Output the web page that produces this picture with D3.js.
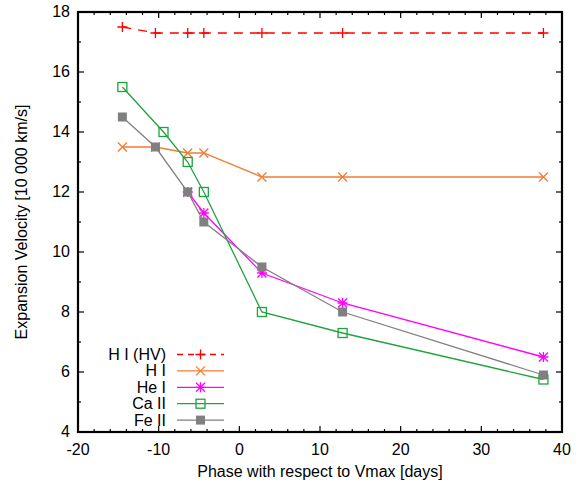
<!DOCTYPE html>
<html><head><meta charset="utf-8">
<script src="https://cdn.jsdelivr.net/npm/d3@7"></script>
<style>body{margin:0;background:#fff}svg{display:block}text{font-family:"Liberation Sans",Arial,sans-serif;font-size:16px;fill:#000}</style>
</head><body>
<script>
const phase = [-14.5, -10.4, -6.4, -4.4, 2.8, 12.8, 37.7];
const phaseCa = [-14.5, -9.4, -6.4, -4.4, 2.8, 12.8, 37.7];
const hiHV = [17.5, 17.3, 17.3, 17.3, 17.3, 17.3, 17.3];
const hi = [13.5, 13.5, 13.3, 13.3, 12.5, 12.5, 12.5];
const heiPhase = [-6.4, -4.4, 2.8, 12.8, 37.7];
const hei = [12.0, 11.3, 9.3, 8.3, 6.5];
const caii = [15.5, 14.0, 13.0, 12.0, 8.0, 7.3, 5.75];
const feii = [14.5, 13.5, 12.0, 11.0, 9.5, 8.0, 5.9];
const xTicks = [-20, -10, 0, 10, 20, 30, 40];
const yTicks = [4, 6, 8, 10, 12, 14, 16, 18];
const seriesNames = ["H I (HV)", "H I", "He I", "Ca II", "Fe II"];

const W = 582, H = 485;
const m = {l: 78, r: 20, t: 12, b: 53};
const svg = d3.select("body").append("svg").attr("width", W).attr("height", H);
const x = d3.scaleLinear().domain([-20, 40]).range([m.l, W - m.r]);
const y = d3.scaleLinear().domain([4, 18]).range([H - m.b, m.t]);

const series = [
  {name: seriesNames[0], xs: phase, ys: hiHV, color: "#ff0000", marker: "plus", dash: "9,7"},
  {name: seriesNames[1], xs: phase, ys: hi, color: "#f07d32", marker: "cross"},
  {name: seriesNames[2], xs: heiPhase, ys: hei, color: "#ff00ff", marker: "star"},
  {name: seriesNames[3], xs: phaseCa, ys: caii, color: "#1fa33f", marker: "osq"},
  {name: seriesNames[4], xs: phase, ys: feii, color: "#808080", marker: "fsq"}
];

function drawMarker(g, type, cx, cy, color) {
  const s = 5;
  if (type === "plus") {
    g.append("path").attr("d", `M${cx-s},${cy}H${cx+s}M${cx},${cy-s}V${cy+s}`).attr("stroke", color).attr("stroke-width", 1.3).attr("fill", "none");
  } else if (type === "cross") {
    const t = 4.5;
    g.append("path").attr("d", `M${cx-t},${cy-t}L${cx+t},${cy+t}M${cx-t},${cy+t}L${cx+t},${cy-t}`).attr("stroke", color).attr("stroke-width", 1.3).attr("fill", "none");
  } else if (type === "star") {
    const t = 4.5;
    g.append("path").attr("d", `M${cx-s},${cy}H${cx+s}M${cx},${cy-s}V${cy+s}M${cx-t},${cy-t}L${cx+t},${cy+t}M${cx-t},${cy+t}L${cx+t},${cy-t}`).attr("stroke", color).attr("stroke-width", 1.3).attr("fill", "none");
  } else if (type === "osq") {
    g.append("rect").attr("x", cx-4.5).attr("y", cy-4.5).attr("width", 9).attr("height", 9).attr("stroke", color).attr("stroke-width", 1.3).attr("fill", "none");
  } else if (type === "fsq") {
    g.append("rect").attr("x", cx-4.5).attr("y", cy-4.5).attr("width", 9).attr("height", 9).attr("fill", color);
  }
}

// ticks
const tg = svg.append("g").attr("stroke", "#000").attr("stroke-width", 1.2);
const x0 = x.range()[0], x1 = x.range()[1], y0 = y.range()[0], y1 = y.range()[1];
d3.range(-20, 40.001, 2).forEach(v => {
  const major = v % 10 === 0;
  const L = major ? 6 : 3;
  tg.append("line").attr("x1", x(v)).attr("x2", x(v)).attr("y1", y0).attr("y2", y0 - L);
  tg.append("line").attr("x1", x(v)).attr("x2", x(v)).attr("y1", y1).attr("y2", y1 + L);
});
d3.range(4, 18.001, 1).forEach(v => {
  const major = v % 2 === 0;
  const L = major ? 6 : 3;
  tg.append("line").attr("y1", y(v)).attr("y2", y(v)).attr("x1", x0).attr("x2", x0 + L);
  tg.append("line").attr("y1", y(v)).attr("y2", y(v)).attr("x1", x1).attr("x2", x1 - L);
});

// tick labels
xTicks.forEach(v => svg.append("text").attr("x", x(v)).attr("y", y0 + 23).attr("text-anchor", "middle").text(v));
yTicks.forEach(v => svg.append("text").attr("x", x0 - 8).attr("y", y(v) + 5).attr("text-anchor", "end").text(v));

// series
const line = d3.line();
series.forEach(s => {
  const g = svg.append("g");
  const pts = s.xs.map((xv, i) => [x(xv), y(s.ys[i])]);
  g.append("path").attr("d", line(pts)).attr("fill", "none").attr("stroke", s.color).attr("stroke-width", 1.3).attr("stroke-dasharray", s.dash || null);
  pts.forEach(p => drawMarker(g, s.marker, p[0], p[1], s.color));
});

// legend
series.forEach((s, i) => {
  const ly = 354.5 + i * 16.4;
  svg.append("text").attr("x", 166).attr("y", ly + 5.5).attr("text-anchor", "end").text(s.name);
  const g = svg.append("g");
  g.append("line").attr("x1", 177).attr("x2", 224).attr("y1", ly).attr("y2", ly).attr("stroke", s.color).attr("stroke-width", 1.3).attr("stroke-dasharray", s.dash ? "6,5" : null);
  drawMarker(g, s.marker, 200.5, ly, s.color);
});

// frame
svg.append("rect").attr("x", x0).attr("y", y1).attr("width", x1 - x0).attr("height", y0 - y1).attr("fill", "none").attr("stroke", "#000").attr("stroke-width", 2.2);

// axis titles
svg.append("text").attr("x", (x0 + x1) / 2).attr("y", 477).attr("text-anchor", "middle").text("Phase with respect to Vmax [days]");
svg.append("text").attr("transform", `translate(27,${(y0 + y1) / 2}) rotate(-90)`).attr("text-anchor", "middle").text("Expansion Velocity [10 000 km/s]");
</script>
</body></html>
